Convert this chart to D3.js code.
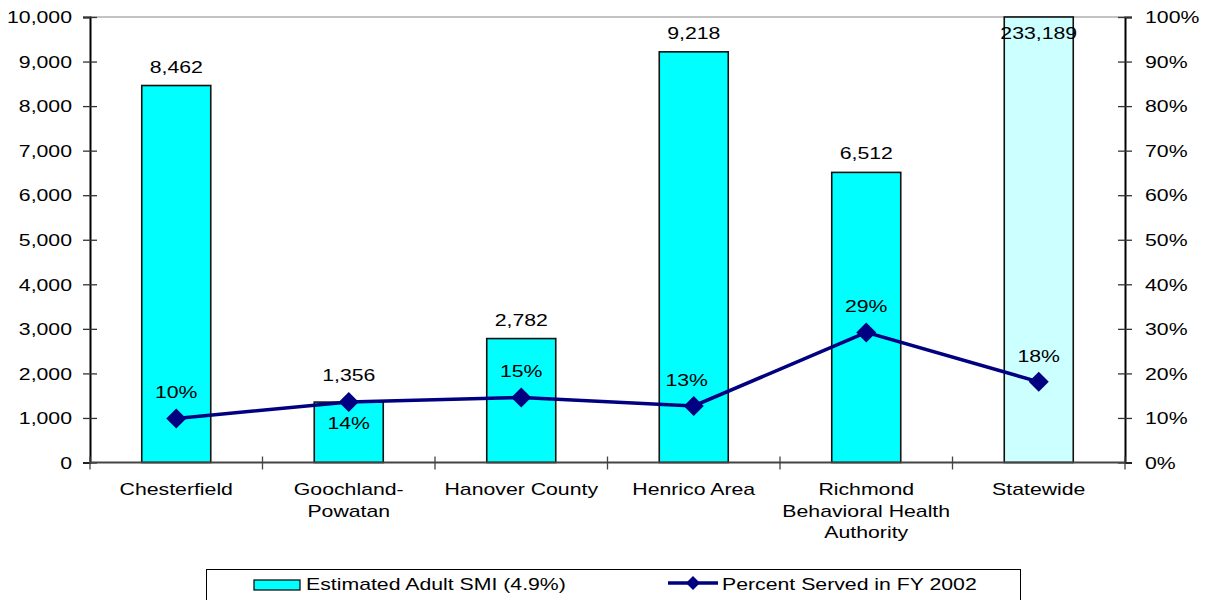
<!DOCTYPE html>
<html>
<head>
<meta charset="utf-8">
<script src="https://cdn.jsdelivr.net/npm/d3@7"></script>
<style>
  html, body { margin: 0; padding: 0; background: #ffffff; }
  svg { display: block; }
  text { font-family: "Liberation Sans", Arial, sans-serif; fill: #000; }
</style>
</head>
<body>
<svg id="chart" width="1205" height="600"></svg>
<script>
// Regions served, with estimated adult SMI population and share served
const categories = [
  ["Chesterfield"],
  ["Goochland-", "Powatan"],
  ["Hanover County"],
  ["Henrico Area"],
  ["Richmond", "Behavioral Health", "Authority"],
  ["Statewide"]
];
const smiEstimates = [8462, 1356, 2782, 9218, 6512, 233189];
const percentServed = [0.099, 0.136, 0.146, 0.127, 0.292, 0.181];
const leftTicks = [0, 1000, 2000, 3000, 4000, 5000, 6000, 7000, 8000, 9000, 10000];
const rightTicks = [0, 0.1, 0.2, 0.3, 0.4, 0.5, 0.6, 0.7, 0.8, 0.9, 1.0];
const legendLabels = ["Estimated Adult SMI (4.9%)", "Percent Served in FY 2002"];

const svg = d3.select("#chart");
const plotLeft = 90, plotRight = 1125, plotTop = 17, plotBottom = 462.5;
const FONT = 17;
const STRETCH = 1.25;

const x = d3.scaleBand().domain(d3.range(categories.length)).range([plotLeft, plotRight]).padding(0);
const y = d3.scaleLinear().domain([0, 10000]).range([plotBottom, plotTop]).clamp(true);
const yp = d3.scaleLinear().domain([0, 1]).range([plotBottom, plotTop]);

const fmtNum = d3.format(",");
const fmtPct = d3.format(".0%");

// Widen glyphs horizontally to the chart's type proportions
function stretch(sel) {
  sel.each(function () {
    const w = this.getComputedTextLength();
    this.setAttribute("textLength", w * STRETCH);
    this.setAttribute("lengthAdjust", "spacingAndGlyphs");
  });
}

// Plot frame top line
svg.append("line")
  .attr("x1", plotLeft).attr("x2", plotRight).attr("y1", plotTop).attr("y2", plotTop)
  .attr("stroke", "#888").attr("stroke-width", 1.2);

// Bars
const barW = x.bandwidth() * 0.4;
svg.append("g").selectAll("rect")
  .data(smiEstimates)
  .join("rect")
  .attr("x", (d, i) => x(i) + x.bandwidth() / 2 - barW / 2)
  .attr("y", d => y(d))
  .attr("width", barW)
  .attr("height", d => plotBottom - y(d))
  .attr("fill", (d, i) => i === smiEstimates.length - 1 ? "#ccffff" : "#00ffff")
  .attr("stroke", "#111")
  .attr("stroke-width", 1.6);

// Left axis
const gl = svg.append("g").attr("transform", `translate(${plotLeft},0)`)
  .call(d3.axisLeft(y).tickValues(leftTicks).tickFormat(fmtNum).tickSize(7).tickPadding(11));
gl.select(".domain").attr("stroke", "#000").attr("stroke-width", 2);
gl.selectAll(".tick line").attr("x1", -7).attr("x2", 7).attr("stroke", "#333").attr("stroke-width", 1.3);
gl.selectAll(".tick text").attr("font-size", FONT).attr("font-family", null).attr("dy", "0.34em");

// Right axis
const gr = svg.append("g").attr("transform", `translate(${plotRight},0)`)
  .call(d3.axisRight(yp).tickValues(rightTicks).tickFormat(fmtPct).tickSize(7).tickPadding(13));
gr.select(".domain").attr("stroke", "#000").attr("stroke-width", 2);
gr.selectAll(".tick line").attr("x1", -7).attr("x2", 7).attr("stroke", "#333").attr("stroke-width", 1.3);
gr.selectAll(".tick text").attr("font-size", FONT).attr("font-family", null).attr("dy", "0.34em");

// Category axis
svg.append("line")
  .attr("x1", plotLeft).attr("x2", plotRight).attr("y1", plotBottom).attr("y2", plotBottom)
  .attr("stroke", "#444").attr("stroke-width", 2);
svg.append("g").selectAll("line")
  .data(d3.range(categories.length + 1))
  .join("line")
  .attr("x1", i => plotLeft + i * x.bandwidth()).attr("x2", i => plotLeft + i * x.bandwidth())
  .attr("y1", plotBottom - 6).attr("y2", plotBottom + 7)
  .attr("stroke", "#444").attr("stroke-width", 1.3);

const catG = svg.append("g");
categories.forEach((lines, i) => {
  lines.forEach((ln, j) => {
    catG.append("text")
      .attr("x", x(i) + x.bandwidth() / 2)
      .attr("y", 495 + j * 21.5)
      .attr("text-anchor", "middle")
      .attr("font-size", FONT)
      .text(ln);
  });
});

// Bar value labels
svg.append("g").selectAll("text")
  .data(smiEstimates)
  .join("text")
  .attr("x", (d, i) => x(i) + x.bandwidth() / 2)
  .attr("y", (d, i) => {
    if (d > 10000) return y(d) + 22;
    if (i === 1) return y(d) - 21;
    return y(d) - 13;
  })
  .attr("text-anchor", "middle")
  .attr("font-size", FONT)
  .text(d => fmtNum(d));

// Percent served line
const cx = i => x(i) + x.bandwidth() / 2;
svg.append("path")
  .datum(percentServed)
  .attr("d", d3.line().x((d, i) => cx(i)).y(d => yp(d)))
  .attr("fill", "none")
  .attr("stroke", "#000080")
  .attr("stroke-width", 3.5);

const diamond = (r, h) => `M0,${-h}L${r},0L0,${h}L${-r},0Z`;
svg.append("g").selectAll("path")
  .data(percentServed)
  .join("path")
  .attr("transform", (d, i) => `translate(${cx(i)},${yp(d)})`)
  .attr("d", diamond(10, 10))
  .attr("fill", "#000080");

svg.append("g").selectAll("text")
  .data(percentServed)
  .join("text")
  .attr("x", (d, i) => cx(i) - (i === 3 ? 7 : 0))
  .attr("y", (d, i) => i === 1 ? yp(d) + 27 : yp(d) - 20)
  .attr("text-anchor", "middle")
  .attr("font-size", FONT)
  .text(d => fmtPct(d));

// Legend
const lg = svg.append("g");
lg.append("rect")
  .attr("x", 206.5).attr("y", 569.5).attr("width", 814).attr("height", 60)
  .attr("fill", "#fff").attr("stroke", "#000").attr("stroke-width", 1);
lg.append("rect")
  .attr("x", 254).attr("y", 580).attr("width", 46).attr("height", 10)
  .attr("fill", "#00ffff").attr("stroke", "#111").attr("stroke-width", 1.3);
lg.append("text")
  .attr("x", 306).attr("y", 590).attr("font-size", FONT).text(legendLabels[0]);
lg.append("line")
  .attr("x1", 668).attr("x2", 718).attr("y1", 583).attr("y2", 583)
  .attr("stroke", "#000080").attr("stroke-width", 3.5);
lg.append("path")
  .attr("transform", "translate(693,583)")
  .attr("d", diamond(7, 7))
  .attr("fill", "#000080");
lg.append("text")
  .attr("x", 722).attr("y", 590).attr("font-size", FONT).text(legendLabels[1]);

svg.selectAll("text").call(stretch);
</script>
</body>
</html>
